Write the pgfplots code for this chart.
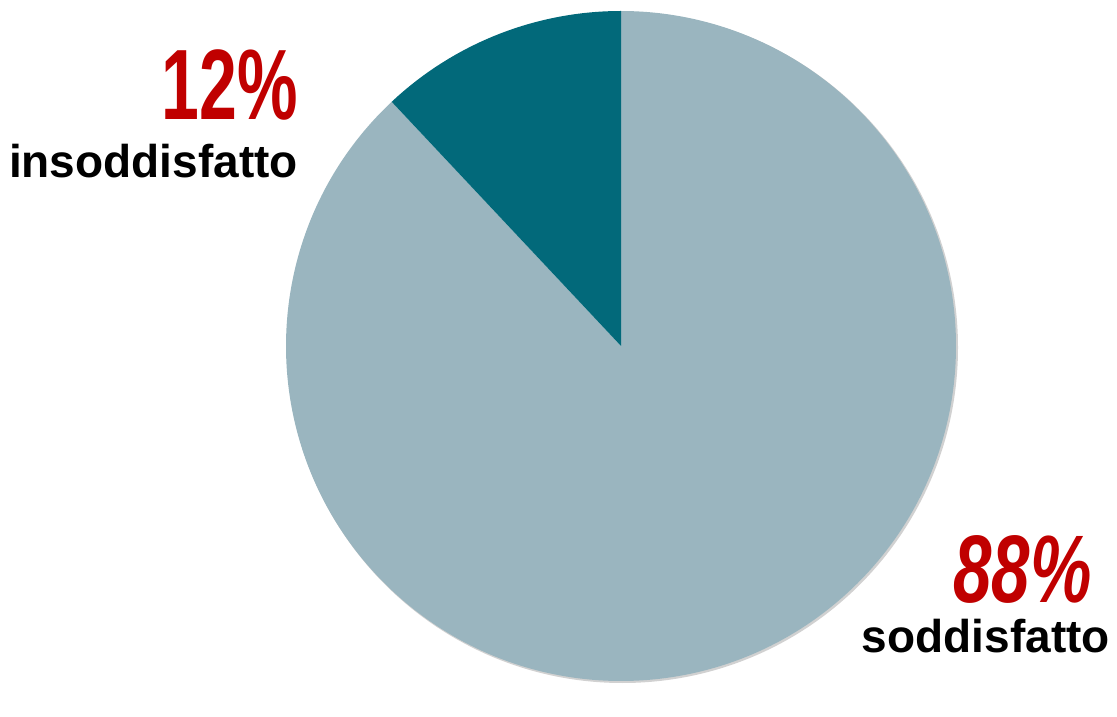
\documentclass[border=0pt]{standalone}
\usepackage{pgfplots}
\pgfplotsset{compat=1.18}
\usepackage{pgfplotstable}
\usepackage{fontspec}
\setmainfont{Liberation Sans}
\definecolor{lightslice}{HTML}{9AB5BF}
\definecolor{darkslice}{HTML}{02697A}
\definecolor{redlab}{HTML}{C00000}
\pgfplotstableread{
label value
insoddisfatto 12
soddisfatto 88
}\piedata
\begin{document}
\begin{tikzpicture}
\pgfplotstablegetelem{0}{value}\of\piedata \let\vA\pgfplotsretval
\pgfplotstablegetelem{1}{value}\of\piedata \let\vB\pgfplotsretval
\pgfmathsetmacro{\aEnd}{90+3.6*\vA}
\pgfmathsetmacro{\bEnd}{\aEnd+3.6*\vB}
\begin{axis}[
  at={(0pt,0pt)}, anchor=south west,
  x=1pt, y=1pt,
  xmin=0, xmax=1117, ymin=0, ymax=682,
  hide axis, clip=false,
]
% soft shadow
\draw[black!18, line width=3pt] (axis cs:622.5,334.5) circle[radius=334pt];
% slices
\fill[lightslice] (axis cs:621,336) -- ++(\aEnd:335pt) arc[start angle=\aEnd, end angle=\bEnd, radius=335pt] -- cycle;
\fill[darkslice] (axis cs:621,336) -- ++(90:335pt) arc[start angle=90, end angle=\aEnd, radius=335pt] -- cycle;
% labels
\node[anchor=base east, inner sep=0pt, text=redlab] at (axis cs:298,562)
  {\scalebox{0.68}[1]{\fontsize{100}{110}\selectfont\bfseries \vA\%}};
\node[anchor=base east, inner sep=0pt] at (axis cs:298,504)
  {\fontsize{46}{50}\selectfont\bfseries insoddisfatto};
\node[anchor=base east, inner sep=0pt, text=redlab] at (axis cs:1092,80)
  {\scalebox{0.72}[1]{\fontsize{96}{100}\selectfont\bfseries\itshape \vB\%}};
\node[anchor=base east, inner sep=0pt] at (axis cs:1110,30)
  {\fontsize{46}{50}\selectfont\bfseries soddisfatto};
\end{axis}
\useasboundingbox (0,0) rectangle (1117pt,682pt);
\end{tikzpicture}
\end{document}
